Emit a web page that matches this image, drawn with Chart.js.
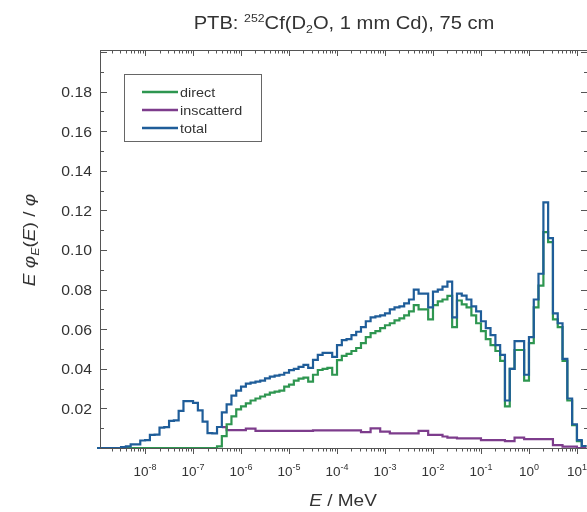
<!DOCTYPE html>
<html>
<head>
<meta charset="utf-8">
<script src="https://cdn.jsdelivr.net/npm/chart.js@4.4.1/dist/chart.umd.min.js"></script>
<style>
  html, body { margin: 0; padding: 0; background: #fff; overflow: hidden; }
  #wrap { position: relative; width: 592px; height: 512px; }
</style>
</head>
<body>
<div id="wrap"><canvas id="graphic"></canvas></div>
<script>
// Energy bin edges in MeV, 10 per decade (lower edge of each bin, last entry closes the last bin)
const energyMeV = [
  1.00e-9, 1.26e-9, 1.58e-9, 2.00e-9, 2.51e-9, 3.16e-9, 3.98e-9, 5.01e-9, 6.31e-9, 7.94e-9,
  1.00e-8, 1.26e-8, 1.58e-8, 2.00e-8, 2.51e-8, 3.16e-8, 3.98e-8, 5.01e-8, 6.31e-8, 7.94e-8,
  1.00e-7, 1.26e-7, 1.58e-7, 2.00e-7, 2.51e-7, 3.16e-7, 3.98e-7, 5.01e-7, 6.31e-7, 7.94e-7,
  1.00e-6, 1.26e-6, 1.58e-6, 2.00e-6, 2.51e-6, 3.16e-6, 3.98e-6, 5.01e-6, 6.31e-6, 7.94e-6,
  1.00e-5, 1.26e-5, 1.58e-5, 2.00e-5, 2.51e-5, 3.16e-5, 3.98e-5, 5.01e-5, 6.31e-5, 7.94e-5,
  1.00e-4, 1.26e-4, 1.58e-4, 2.00e-4, 2.51e-4, 3.16e-4, 3.98e-4, 5.01e-4, 6.31e-4, 7.94e-4,
  1.00e-3, 1.26e-3, 1.58e-3, 2.00e-3, 2.51e-3, 3.16e-3, 3.98e-3, 5.01e-3, 6.31e-3, 7.94e-3,
  1.00e-2, 1.26e-2, 1.58e-2, 2.00e-2, 2.51e-2, 3.16e-2, 3.98e-2, 5.01e-2, 6.31e-2, 7.94e-2,
  1.00e-1, 1.26e-1, 1.58e-1, 2.00e-1, 2.51e-1, 3.16e-1, 3.98e-1, 5.01e-1, 6.31e-1, 7.94e-1,
  1.00e0, 1.26e0, 1.58e0, 2.00e0, 2.51e0, 3.16e0, 3.98e0, 5.01e0, 6.31e0, 7.94e0,
  1.00e1, 1.26e1, 1.58e1
];

// E·phi_E(E)/phi per bin
const direct = [
  0, 0, 0, 0, 0, 0, 0, 0, 0, 0,
  0, 0, 0, 0, 0, 0, 0, 0, 0, 0,
  0, 0, 0, 0, 0, 0.0008, 0.0060, 0.0120, 0.0160, 0.0195,
  0.0210, 0.0225, 0.0240, 0.0250, 0.0260, 0.0270, 0.0280, 0.0285, 0.0290, 0.0310,
  0.0320, 0.0340, 0.0350, 0.0355, 0.0335, 0.0370, 0.0394, 0.0400, 0.0405, 0.0370,
  0.0444, 0.0465, 0.0475, 0.0490, 0.0505, 0.0530, 0.0560, 0.0580, 0.0590, 0.0605,
  0.0620, 0.0630, 0.0645, 0.0655, 0.0670, 0.0690, 0.0722, 0.0700, 0.0700, 0.0650,
  0.0722, 0.0740, 0.0750, 0.0768, 0.0610, 0.0745, 0.0725, 0.0710, 0.0670, 0.0630,
  0.0590, 0.0550, 0.0520, 0.0490, 0.0440, 0.0210, 0.0400, 0.0495, 0.0495, 0.0340,
  0.0530, 0.0710, 0.0820, 0.1090, 0.1040, 0.0650, 0.0610, 0.0440, 0.0240, 0.0115,
  0.0035, 0.0010
];

const inscattered = [
  null, null, null, null, null, null, null, null, null, null,
  null, null, null, null, null, null, null, null, null, null,
  null, null, null, null, null, null, 0.0105, 0.0090, 0.0090, 0.0090,
  0.0090, 0.0098, 0.0098, 0.0086, 0.0086, 0.0086, 0.0086, 0.0086, 0.0086, 0.0086,
  0.0086, 0.0086, 0.0086, 0.0086, 0.0086, 0.0089, 0.0089, 0.0089, 0.0089, 0.0089,
  0.0089, 0.0089, 0.0089, 0.0089, 0.0089, 0.0080, 0.0080, 0.0099, 0.0099, 0.0083,
  0.0083, 0.0074, 0.0074, 0.0074, 0.0074, 0.0074, 0.0074, 0.0086, 0.0086, 0.0066,
  0.0066, 0.0066, 0.0058, 0.0052, 0.0052, 0.0049, 0.0049, 0.0049, 0.0049, 0.0049,
  0.0040, 0.0040, 0.0040, 0.0040, 0.0040, 0.0035, 0.0035, 0.0052, 0.0052, 0.0045,
  0.0045, 0.0045, 0.0045, 0.0045, 0.0045, 0.0015, 0.0015, 0.0007, 0.0007, 0.0007,
  0, 0
];

const total = [
  0, 0, 0, 0, 0, 0.0005, 0.0008, 0.0018, 0.0018, 0.0038,
  0.0040, 0.0066, 0.0068, 0.0103, 0.0105, 0.0137, 0.0140, 0.0187, 0.0237, 0.0237,
  0.0228, 0.0190, 0.0133, 0.0075, 0.0074, 0.0106, 0.0180, 0.0220, 0.0265, 0.0290,
  0.0310, 0.0325, 0.0330, 0.0335, 0.0340, 0.0352, 0.0360, 0.0366, 0.0370, 0.0380,
  0.0393, 0.0400, 0.0410, 0.0420, 0.0405, 0.0445, 0.0470, 0.0480, 0.0480, 0.0460,
  0.0520, 0.0545, 0.0550, 0.0570, 0.0587, 0.0610, 0.0640, 0.0660, 0.0665, 0.0670,
  0.0680, 0.0700, 0.0710, 0.0715, 0.0730, 0.0750, 0.0800, 0.0780, 0.0780, 0.0710,
  0.0790, 0.0800, 0.0815, 0.0840, 0.0660, 0.0780, 0.0770, 0.0750, 0.0715, 0.0690,
  0.0640, 0.0605, 0.0570, 0.0520, 0.0470, 0.0240, 0.0400, 0.0540, 0.0540, 0.0370,
  0.0560, 0.0750, 0.0880, 0.1240, 0.1060, 0.0680, 0.0630, 0.0450, 0.0250, 0.0120,
  0.0040, 0.0010
];

// axis labels
const decadeExponents = [-8, -7, -6, -5, -4, -3, -2, -1, 0, 1];
const yTickLabels = ['0.02', '0.04', '0.06', '0.08', '0.10', '0.12', '0.14', '0.16', '0.18'];

const seriesNames = ['direct', 'inscatterd', 'total'];
const seriesColors = ['#2e9650', '#7d3c8c', '#1f5d99'];

const FONT = '"Liberation Sans", Arial, sans-serif';
const TEXT = '#333';
const SX = 1.12; // horizontal stretch of the lettering

function steps(values) {
  const pts = values.map((v, i) => ({ x: energyMeV[i], y: v }));
  pts.push({ x: energyMeV[values.length], y: values[values.length - 1] });
  return pts;
}

// draw a run of text pieces (with sub/superscripts) centred on cx
function drawRich(ctx, segs, cx, y, sx) {
  let w = 0;
  segs.forEach((s) => { ctx.font = s.f; w += ctx.measureText(s.t).width * sx; });
  let x = cx - w / 2;
  segs.forEach((s) => {
    ctx.font = s.f;
    ctx.save();
    ctx.translate(x, y + (s.dy || 0));
    ctx.scale(sx, 1);
    ctx.fillText(s.t, 0, 0);
    ctx.restore();
    x += ctx.measureText(s.t).width * sx;
  });
}

const axisFrame = {
  id: 'axisFrame',
  afterDraw(chart) {
    const { ctx, chartArea: a, scales: { x, y } } = chart;
    ctx.save();
    ctx.strokeStyle = '#555';
    ctx.lineWidth = 1;
    ctx.strokeRect(a.left + 0.5, a.top + 0.5, a.right - a.left, a.bottom - a.top);

    ctx.beginPath();
    // y ticks, pointing inward on both sides
    for (let k = 0; k <= 20; k++) {
      const py = Math.round(y.getPixelForValue(k / 100)) + 0.5;
      const len = k % 2 === 0 ? 7 : 4;
      ctx.moveTo(a.left, py); ctx.lineTo(a.left + len, py);
      ctx.moveTo(a.right, py); ctx.lineTo(a.right - len, py);
    }
    // x ticks: outward at the bottom, inward at the top
    for (let d = -9; d <= 1; d++) {
      for (let m = 1; m <= 9; m++) {
        const v = m * Math.pow(10, d);
        if (v < x.min || v > x.max) continue;
        const px = Math.round(x.getPixelForValue(v)) + 0.5;
        const len = m === 1 ? 6 : 3.5;
        ctx.moveTo(px, a.bottom); ctx.lineTo(px, a.bottom + len);
        ctx.moveTo(px, a.top); ctx.lineTo(px, a.top + len);
      }
    }
    ctx.stroke();

    ctx.fillStyle = TEXT;
    ctx.textBaseline = 'alphabetic';

    // y tick labels
    yTickLabels.forEach((t) => {
      const py = y.getPixelForValue(parseFloat(t));
      ctx.font = '15px ' + FONT;
      const w = ctx.measureText(t).width * 1.05;
      ctx.save();
      ctx.translate(92 - w, py + 5.5);
      ctx.scale(1.05, 1);
      ctx.fillText(t, 0, 0);
      ctx.restore();
    });

    // x tick labels 10^n
    decadeExponents.forEach((e) => {
      const px = x.getPixelForValue(Math.pow(10, e));
      drawRich(ctx, [
        { t: '10', f: '13.5px ' + FONT },
        { t: String(e), f: '9px ' + FONT, dy: -6 }
      ], px, 476, 1);
    });

    // title
    drawRich(ctx, [
      { t: 'PTB: ', f: '18px ' + FONT },
      { t: '252', f: '11px ' + FONT, dy: -7 },
      { t: 'Cf(D', f: '18px ' + FONT },
      { t: '2', f: '11px ' + FONT, dy: 4 },
      { t: 'O, 1 mm Cd), 75 cm', f: '18px ' + FONT }
    ], (a.left + a.right) / 2, 29, SX);

    // x axis title
    drawRich(ctx, [
      { t: 'E', f: 'italic 17px ' + FONT },
      { t: ' / MeV', f: '17px ' + FONT }
    ], 343, 506, SX);

    // y axis title
    ctx.save();
    ctx.translate(35, 240);
    ctx.rotate(-Math.PI / 2);
    drawRich(ctx, [
      { t: 'E ', f: 'italic 17px ' + FONT },
      { t: 'φ', f: 'italic 17px ' + FONT },
      { t: 'E', f: 'italic 11px ' + FONT, dy: 4 },
      { t: '(', f: '17px ' + FONT },
      { t: 'E', f: 'italic 17px ' + FONT },
      { t: ') / ', f: '17px ' + FONT },
      { t: 'φ', f: 'italic 17px ' + FONT }
    ], 0, 0, SX);
    ctx.restore();

    // legend box
    ctx.strokeStyle = '#666';
    ctx.strokeRect(124.5, 74.5, 137, 67);
    seriesNames.forEach((name, i) => {
      const ly = 92 + i * 18;
      ctx.strokeStyle = seriesColors[i];
      ctx.lineWidth = 2.5;
      ctx.beginPath();
      ctx.moveTo(142, ly); ctx.lineTo(178, ly);
      ctx.stroke();
      ctx.font = '12.5px ' + FONT;
      ctx.save();
      ctx.translate(180, ly + 4.5);
      ctx.scale(1.15, 1);
      ctx.fillText(name, 0, 0);
      ctx.restore();
    });
    ctx.restore();
  }
};

const datasets = [direct, inscattered, total].map((vals, i) => ({
  label: seriesNames[i],
  data: steps(vals),
  borderColor: seriesColors[i],
  backgroundColor: seriesColors[i],
  borderWidth: 2.2,
  stepped: true,
  pointRadius: 0,
  fill: false,
  clip: 3,
  order: [2, 3, 1][i]
}));

new Chart(document.querySelector('#graphic'), {
  type: 'line',
  data: { datasets },
  options: {
    responsive: true,
    maintainAspectRatio: false,
    animation: false,
    layout: { padding: { top: 50, right: 4, left: 0, bottom: 0 } },
    plugins: { legend: { display: false }, tooltip: { enabled: false } },
    scales: {
      x: {
        type: 'logarithmic',
        bounds: 'data',
        min: 1.15e-9,
        max: 17,
        grid: { display: false },
        border: { display: false },
        ticks: { display: false },
        afterFit: (s) => { s.height = 64; }
      },
      y: {
        type: 'linear',
        bounds: 'data',
        min: 0,
        max: 0.201,
        grid: { display: false },
        border: { display: false },
        ticks: { display: false },
        afterFit: (s) => { s.width = 100; }
      }
    }
  },
  plugins: [axisFrame]
});
</script>
</body>
</html>
